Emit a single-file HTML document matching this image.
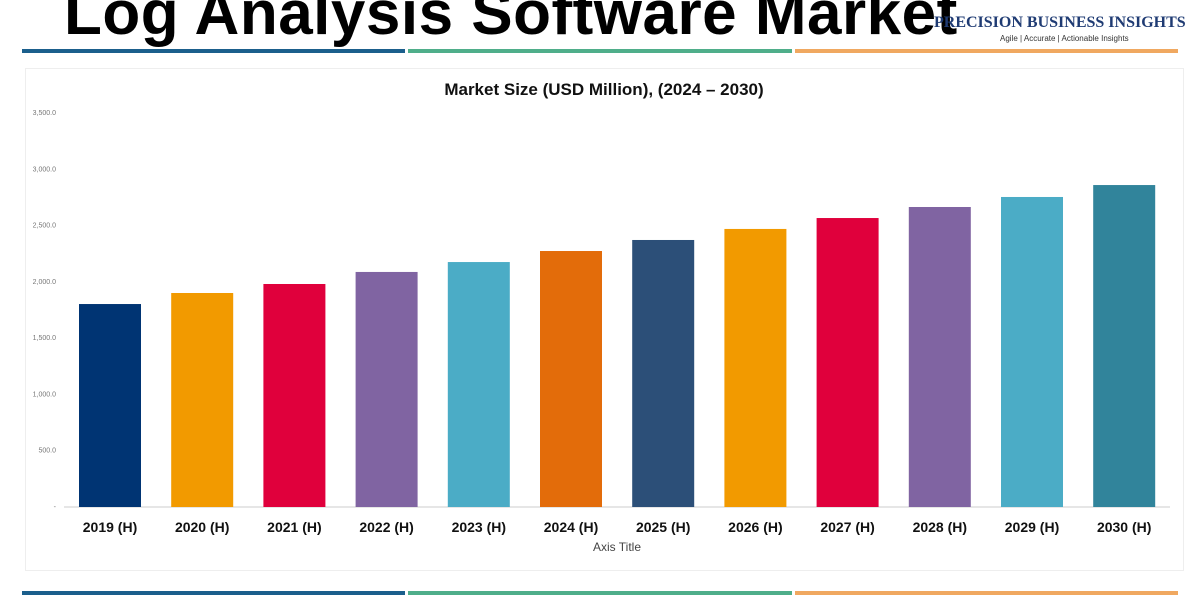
<!DOCTYPE html>
<html><head><meta charset="utf-8"><style>
body{margin:0;width:1200px;height:600px;background:#fff;overflow:hidden;position:relative;font-family:"Liberation Sans",sans-serif}
.main{position:absolute;left:64px;top:-22px;font-size:62px;font-weight:bold;color:#000;white-space:nowrap;letter-spacing:0.5px}
.logo{position:absolute;left:934px;top:14px;font-family:"Liberation Serif",serif;font-weight:bold;color:#1f3b73;font-size:16px;white-space:nowrap}
.tag{position:absolute;left:1000px;top:34px;font-size:8px;color:#333;white-space:nowrap}
.seg{position:absolute;height:4px}
.box{position:absolute;left:25px;top:68px;width:1157px;height:501px;border:1px solid #eee}
</style></head><body>
<div class="main">Log Analysis Software Market</div>
<div class="logo">PRECISION BUSINESS INSIGHTS</div>
<div class="tag">Agile | Accurate | Actionable Insights</div>
<div class="seg" style="left:22px;top:49px;width:383px;background:#1b5f8c"></div>
<div class="seg" style="left:408px;top:49px;width:384px;background:#4fae8a"></div>
<div class="seg" style="left:795px;top:49px;width:383px;background:#f0a860"></div>
<div class="seg" style="left:22px;top:591px;width:383px;background:#1b5f8c"></div>
<div class="seg" style="left:408px;top:591px;width:384px;background:#4fae8a"></div>
<div class="seg" style="left:795px;top:591px;width:383px;background:#f0a860"></div>
<div class="box"></div>
<svg id="chart" width="1200" height="600" style="position:absolute;left:0;top:0">
<text x="604" y="95" text-anchor="middle" font-size="17" font-weight="bold" fill="#111">Market Size (USD Million), (2024 – 2030)</text>
<text x="617" y="551" text-anchor="middle" font-size="12" fill="#444">Axis Title</text>
</svg>
<script>
const categories=["2019 (H)","2020 (H)","2021 (H)","2022 (H)","2023 (H)","2024 (H)","2025 (H)","2026 (H)","2027 (H)","2028 (H)","2029 (H)","2030 (H)"];
const values=[1803,1901,1981,2088,2176,2274,2372,2470,2567,2665,2754,2860];
const colors=["#003473","#f29a00","#e0003c","#8064a2","#4bacc6","#e36c0a","#2c4f78","#f29a00","#e0003c","#8064a2","#4bacc6","#31849b"];
const ticks=[0,500,1000,1500,2000,2500,3000,3500];
const tickLabels=["-","500.0","1,000.0","1,500.0","2,000.0","2,500.0","3,000.0","3,500.0"];
const svg=document.getElementById('chart');const NS="http://www.w3.org/2000/svg";
const y0=507,yTop=113,yMax=3500,x0=64,step=92.2,bw=62;
const y=v=>y0-(v/yMax)*(y0-yTop);
const x=i=>x0+15+i*step;
function mk(t,a){const e=document.createElementNS(NS,t);for(const k in a)e.setAttribute(k,a[k]);svg.appendChild(e);return e;}
ticks.forEach((t,i)=>{const e=mk('text',{x:56,y:y(t)+2,'text-anchor':'end','font-size':7,fill:'#777'});e.textContent=tickLabels[i];

});
const ax=mk('line',{x1:x0,x2:1170,y1:y0,y2:y0,stroke:'#ccc'});


values.forEach((v,i)=>{const r=mk('rect',{x:x(i),y:y(v),width:bw,height:y0-y(v),fill:colors[i]});


const t=mk('text',{x:x(i)+bw/2,y:532,'text-anchor':'middle','font-size':14,'font-weight':'bold',fill:'#111'});t.textContent=categories[i];

});
</script>
</body></html>
